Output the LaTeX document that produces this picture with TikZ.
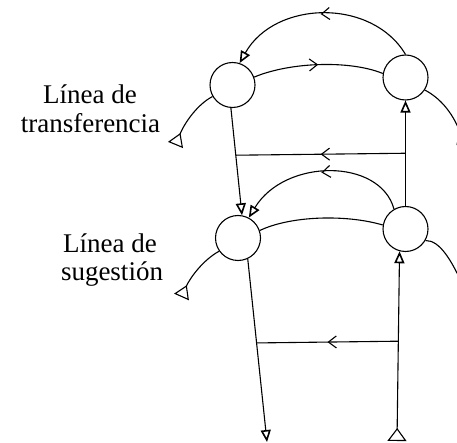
\documentclass[tikz,border=0pt]{standalone}
\usepackage{fontspec}
\setmainfont{Liberation Serif}
\usetikzlibrary{arrows.meta,decorations.markings,calc}
\tikzset{
  ln/.style={line width=1.1pt},
  circ/.style={circle, draw, line width=1.1pt, minimum size=45pt, inner sep=0pt},
  endtip/.style={-{Triangle[open,length=12pt,width=10pt,line width=1.6pt]}},
  freeend/.style={-{Triangle[open,reversed,length=13pt,width=16pt,line width=1.1pt]}},
  starttri/.style={{Triangle[open,reversed,length=13pt,width=19pt,line width=1.1pt]}-{Triangle[open,length=12pt,width=10pt,line width=1.6pt]}},
  midarrow/.style={postaction={decorate},
    decoration={markings, mark=at position 0.5 with {\arrow{Straight Barb[length=8pt,width=12pt,line width=1.1pt]}}}},
  lbl/.style={font=\fontsize{27}{29}\selectfont, anchor=base, inner sep=0pt}
}
\begin{document}
\begin{tikzpicture}[x=1pt,y=-1pt]
\useasboundingbox (0,0) rectangle (457,443);
% circles
\node[circ] (A) at (232.5,85) {};
\node[circ] (B) at (405.5,77.5) {};
\node[circ] (C) at (238,238) {};
\node[circ] (D) at (405.5,229) {};
% free ends
\coordinate (Aout) at (175.5,145);
\coordinate (Bout) at (464,142);
\coordinate (Cout) at (181.5,297);
\coordinate (Dout) at (466,292);
\coordinate (Cdown) at (267,442);
\coordinate (Din) at (397,441);
% branch points
\coordinate (h1r) at ($(D.north)!0.5!(B.south)$);
\coordinate (h1l) at ($(A.266)!0.44!(C.80)$);
\coordinate (h2r) at ($(D.255)!0.474!(Din)$);
\coordinate (h2l) at ($(C.295)!0.459!(Cdown)$);
% upper pair
\draw[ln,midarrow,endtip] (B.north) .. controls (372,-2) and (275,0) .. (A.72);
\draw[ln,midarrow] (A.20) .. controls (290,62) and (350,60) .. (B.170);
\draw[ln,freeend] (A.210) .. controls (198,104) and (185,122) .. (Aout);
\draw[ln,freeend] (B.327) .. controls (440,98) and (452,112) .. (Bout);
% verticals and cross links
\draw[ln,endtip] (A.266) -- (C.80);
\draw[ln,endtip] (D.north) -- (B.south);
\draw[ln,midarrow] (h1r) -- (h1l);
% lower pair
\draw[ln,midarrow,endtip] (D.120) .. controls (380,158) and (285,158) .. (C.62);
\draw[ln] (D.170) .. controls (345,214) and (290,216) .. (C.19);
\draw[ln,freeend] (C.215) .. controls (203,260) and (190,278) .. (Cout);
\draw[ln,freeend] (D.330) .. controls (440,240) and (452,262) .. (Dout);
\draw[ln,endtip] (C.295) -- (Cdown);
\draw[ln,starttri] (Din) -- (D.255);
\draw[ln,midarrow] (h2r) -- (h2l);
% labels
\node[lbl] (t1) at (90,104) {Línea de};
\node[lbl] (t2) at (90.5,133) {transferencia};
\node[lbl] (t3) at (110,253) {Línea de};
\node[lbl] (t4) at (112,280) {sugestión};
\end{tikzpicture}
\end{document}
